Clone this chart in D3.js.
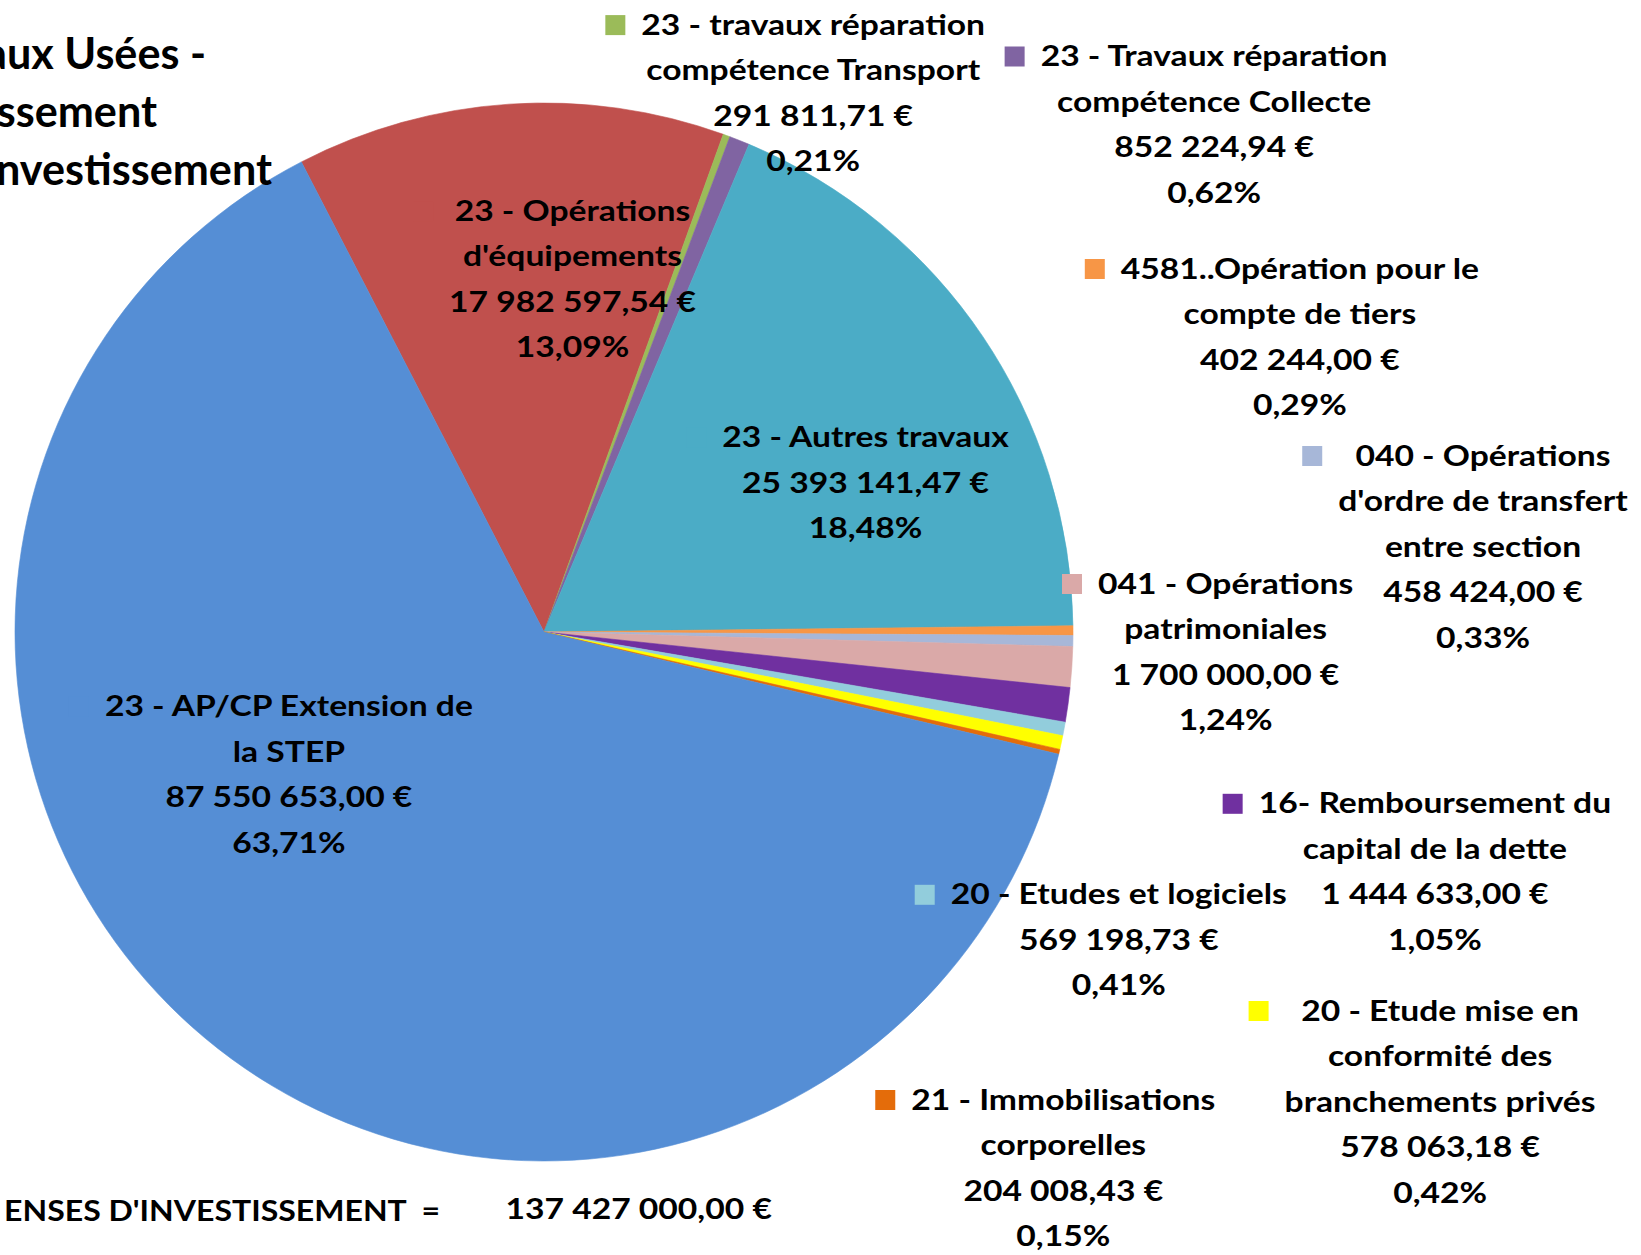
<!DOCTYPE html>
<html><head><meta charset="utf-8">
<script src="https://cdn.jsdelivr.net/npm/d3@7"></script>
<style>html,body{margin:0;padding:0;background:#fff;overflow:hidden} text{white-space:pre}</style>
</head><body><svg id="chart" width="1641" height="1255"></svg>
<script>
// ---------- DATA ----------
const categories = [
  "23 - Opérations\nd'équipements",
  "23 - travaux réparation\ncompétence Transport",
  "23 - Travaux réparation\ncompétence Collecte",
  "23 - Autres travaux",
  "4581..Opération pour le\ncompte de tiers",
  "040 - Opérations\nd'ordre de transfert\nentre section",
  "041 - Opérations\npatrimoniales",
  "16- Remboursement du\ncapital de la dette",
  "20 - Etudes et logiciels",
  "20 - Etude mise en\nconformité des\nbranchements privés",
  "21 - Immobilisations\ncorporelles",
  "23 - AP/CP Extension de\nla STEP"
];
const values = [17982597.54, 291811.71, 852224.94, 25393141.47, 402244.00, 458424.00,
                1700000.00, 1444633.00, 569198.73, 578063.18, 204008.43, 87550653.00];
const titleLines = ["aux Usées -", "ssement", "nvestissement"];
const totalLabel = "ENSES D'INVESTISSEMENT  =";

// ---------- STYLE / LAYOUT ----------
const colors = ["#C0504D", "#9BBB59", "#8064A2", "#4BACC6", "#F79646", "#A7B7D8",
                "#DAA9A8", "#7030A0", "#92CDDC", "#FFFF00", "#E46C0A", "#558ED5"];
const labelPos = [[572.5,211.4],[813.2,25.1],[1214.1,56.5],[865.5,437.5],[1299.9,269],
                  [1483,456],[1225.6,584],[1434.9,803.8],[1118.8,894.8],[1440.1,1011],
                  [1063.3,1100],[288.9,706.5]];
const cx = 544, cy = 632, R = 529;
const startDeg = -27.3;
const FS = 28, LINE = 45.5, KEY = 20, KEYGAP = 16;
const TITLE_FS = 44;
const titleRight = [206, 157, 272], titleY = [54, 112, 170];
const FONT = "Lato, 'Open Sans', sans-serif";

const svg = d3.select("#chart");
const data = categories.map((c, i) => ({name: c, value: values[i], color: colors[i], pos: labelPos[i]}));
const total = d3.sum(values);

const loc = d3.formatLocale({decimal: ",", thousands: " ", grouping: [3], currency: ["", " €"]});
const fmtVal = v => loc.format(",.2f")(v) + " €";
const fmtPct = loc.format(".2%");

// measure to get horizontal compression (Calibri-like widths)
function measure(txt, fs) {
  const p = svg.append("text").attr("font-family", FONT).attr("font-weight", 700)
    .attr("font-size", fs).text(txt);
  const w = p.node().getComputedTextLength();
  p.remove();
  return w;
}
const sx = 368 / measure("23 - AP/CP Extension de", FS);
const sxT = 276 / measure("nvestissement", TITLE_FS);
const sxB = 436 / measure(totalLabel, FS);

// pie
const pie = d3.pie().sort(null).value(d => d.value)
  .startAngle(startDeg * Math.PI / 180).endAngle(startDeg * Math.PI / 180 + 2 * Math.PI);
const arc = d3.arc().innerRadius(0).outerRadius(R);
const g = svg.append("g").attr("transform", `translate(${cx},${cy})`);
g.selectAll("path").data(pie(data)).join("path")
  .attr("d", arc).attr("fill", d => d.data.color)
  .attr("stroke", d => d.data.color).attr("stroke-width", 0.6);

// labels
data.forEach(d => {
  const lines = d.name.split("\n").concat([fmtVal(d.value), fmtPct(d.value / total)]);
  const lg = svg.append("g");
  let maxW = 0;
  lines.forEach((t, k) => {
    const tx = lg.append("text")
      .attr("transform", `translate(${d.pos[0]},${d.pos[1] + k * LINE + FS * 0.34}) scale(${sx},1)`)
      .attr("text-anchor", "middle").attr("font-family", FONT).attr("font-weight", 700)
      .attr("font-size", FS).attr("fill", "#000").text(t);
    maxW = Math.max(maxW, tx.node().getComputedTextLength() * sx);
  });
  lg.insert("rect", "text")
    .attr("x", d.pos[0] - maxW / 2 - KEYGAP - KEY).attr("y", d.pos[1] - KEY / 2)
    .attr("width", KEY).attr("height", KEY).attr("fill", d.color);
});

// title (clipped at left edge, as in the reference)
titleLines.forEach((t, k) => {
  svg.append("text")
    .attr("transform", `translate(${titleRight[k]},${titleY[k] + TITLE_FS * 0.34}) scale(${sxT},1)`)
    .attr("text-anchor", "end").attr("font-family", FONT).attr("font-weight", 700)
    .attr("font-size", TITLE_FS).attr("fill", "#000").text(t);
});

// total line
svg.append("text")
  .attr("transform", `translate(440,${1211 + FS * 0.34}) scale(${sxB},1)`)
  .attr("text-anchor", "end").attr("font-family", FONT).attr("font-weight", 700)
  .attr("font-size", FS).attr("fill", "#000").text(totalLabel);
svg.append("text")
  .attr("transform", `translate(505.5,${1209 + FS * 0.34}) scale(${sx},1)`)
  .attr("text-anchor", "start").attr("font-family", FONT).attr("font-weight", 700)
  .attr("font-size", FS).attr("fill", "#000").text(fmtVal(total));
</script>
</body></html>
